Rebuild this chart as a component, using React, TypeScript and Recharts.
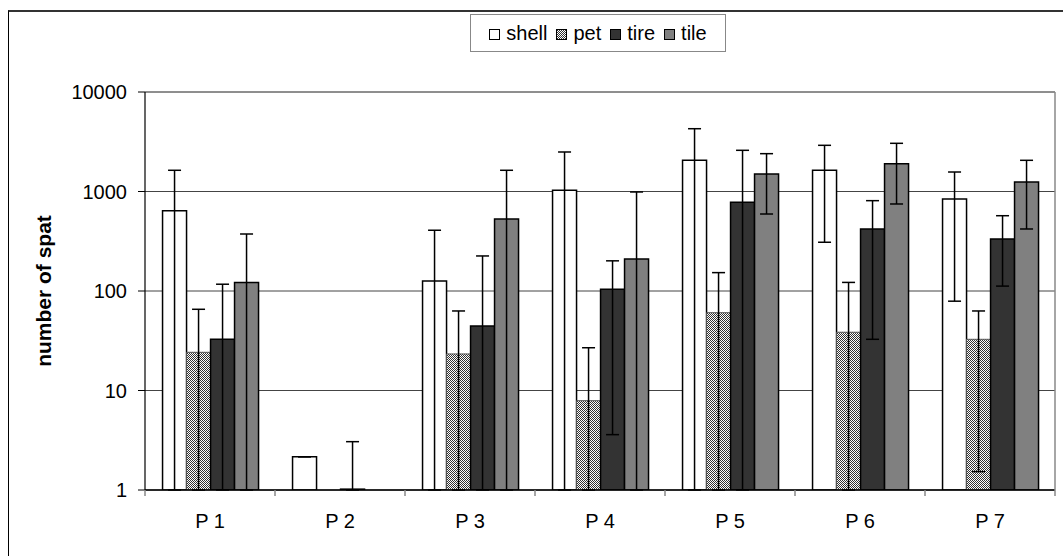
import React from "react";
import {
  Bar,
  BarChart,
  CartesianGrid,
  ErrorBar,
  Legend,
  XAxis,
  YAxis,
} from "recharts";

// group labels
const categories = ["P 1", "P 2", "P 3", "P 4", "P 5", "P 6", "P 7"];

// means (null = no bar)
const shell = [641, 2.16, 126, 1028, 2058, 1634, 841];
const pet = [24.2, null, 23.3, 7.9, 60.5, 38.5, 32.7];
const tire = [32.7, 1.02, 44.5, 104, 779, 420, 333];
const tile = [122, null, 529, 210, 1500, 1902, 1245];

// top of the error whiskers
const shellHigh = [1634, 2.16, 408, 2495, 4276, 2912, 1570];
const petHigh = [65.5, null, 63, 26.9, 153, 122, 63];
const tireHigh = [117, 3.06, 225, 201, 2594, 809, 571];
const tileHigh = [374, null, 1634, 989, 2400, 3050, 2058];

// bottom of the whiskers, null = runs below the axis
const shellLow = [null, 2.16, null, null, null, 309, 79];
const petLow = [null, null, null, null, null, null, 1.53];
const tireLow = [null, null, null, 3.6, null, 32.7, 112];
const tileLow = [null, null, null, null, 594, 749, 420];

const yTicks = [1, 10, 100, 1000, 10000];

const AXIS_MIN = yTicks[0];
const FONT = "Arial, 'Liberation Sans', sans-serif";
const X_TICK_SIZE = 6;
const X_TICK_MARGIN = 18;

const errOf = (v: number | null, lo: number | null, hi: number | null) =>
  v == null || hi == null ? null : [v - (lo ?? AXIS_MIN), hi - v];

const data = categories.map((name, i) => ({
  name,
  shell: shell[i],
  pet: pet[i],
  tire: tire[i],
  tile: tile[i],
  shellErr: errOf(shell[i], shellLow[i], shellHigh[i]),
  petErr: errOf(pet[i], petLow[i], petHigh[i]),
  tireErr: errOf(tire[i], tireLow[i], tireHigh[i]),
  tileErr: errOf(tile[i], tileLow[i], tileHigh[i]),
}));

const legendItems = [
  { name: "shell", fill: "#ffffff" },
  { name: "pet", fill: "url(#petFill)" },
  { name: "tire", fill: "#333333" },
  { name: "tile", fill: "#808080" },
];

// category label plus the grey tick marks that sit between groups
function CategoryTick(props: any) {
  const { x, y, payload, index } = props;
  const half = payload?.offset ?? 0;
  const axisY = y - X_TICK_SIZE - X_TICK_MARGIN;
  const mark = (px: number, k: string) => (
    <line key={k} x1={px} x2={px} y1={axisY} y2={axisY + X_TICK_SIZE} stroke="#888" strokeWidth={1.5} />
  );
  return (
    <g>
      {mark(x - half, "l")}
      {index === categories.length - 1 ? mark(x + half, "r") : null}
      <text x={x} y={y} dy="0.71em" textAnchor="middle" fill="#000" fontSize={20} fontFamily={FONT}>
        {payload.value}
      </text>
    </g>
  );
}

function LegendBox() {
  return (
    <div
      style={{
        position: "absolute",
        left: 0,
        top: 0,
        width: 256,
        height: 38,
        boxSizing: "border-box",
        border: "1px solid #888",
        background: "#fff",
        fontFamily: FONT,
        fontSize: 20,
        color: "#000",
        display: "flex",
        alignItems: "center",
        justifyContent: "center",
        whiteSpace: "nowrap",
      }}
    >
      {legendItems.map((it, i) => (
        <span key={it.name} style={{ marginLeft: i === 0 ? 0 : 9 }}>
          <svg width={11} height={11} style={{ verticalAlign: "baseline", marginRight: 6 }}>
            <rect x={0.5} y={0.5} width={10} height={10} fill={it.fill} stroke="#000" />
          </svg>
          {it.name}
        </span>
      ))}
    </div>
  );
}

export default function App() {
  const errProps = { width: 6.5, stroke: "#000", strokeWidth: 1.5, direction: "y" as const };
  return (
    <div
      style={{
        position: "absolute",
        left: 0,
        top: 0,
        width: 1063,
        height: 556,
        overflow: "hidden",
        background: "#fff",
      }}
    >
      <div
        style={{
          position: "absolute",
          left: 8,
          top: 10,
          width: 1200,
          height: 700,
          borderTop: "2px solid #333",
          borderLeft: "1px solid #000",
        }}
      />
      <BarChart
        width={1063}
        height={556}
        data={data}
        margin={{ top: 91, right: 7, bottom: 26, left: 20 }}
        barGap={0}
        barCategoryGap="13.5%"
        style={{ position: "absolute", left: 0, top: 0 }}
      >
        <defs>
          <pattern id="petFill" width={2} height={2} patternUnits="userSpaceOnUse">
            <rect width={2} height={2} fill="#fff" />
            <rect width={1} height={1} fill="#333" />
            <rect x={1} y={1} width={1} height={1} fill="#333" />
          </pattern>
        </defs>
        <CartesianGrid vertical={false} stroke="#444" />
        <XAxis
          dataKey="name"
          height={40}
          tickLine={false}
          tickSize={X_TICK_SIZE}
          tickMargin={X_TICK_MARGIN}
          axisLine={{ stroke: "#000", strokeWidth: 1.5 }}
          tick={<CategoryTick />}
          interval={0}
        />
        <XAxis
          xAxisId="top"
          orientation="top"
          dataKey="name"
          height={1}
          tick={false}
          tickLine={false}
          axisLine={{ stroke: "#888", strokeWidth: 1.5 }}
        />
        <YAxis
          scale="log"
          type="number"
          domain={[AXIS_MIN, 10000]}
          ticks={yTicks}
          allowDataOverflow
          width={125}
          tickSize={7}
          tickMargin={11}
          tickLine={{ stroke: "#000" }}
          axisLine={{ stroke: "#000", strokeWidth: 1.2 }}
          tick={{ fill: "#000", fontSize: 20, fontFamily: FONT }}
          label={{
            value: "number of spat",
            angle: -90,
            position: "insideLeft",
            offset: 24,
            style: { textAnchor: "middle", fontWeight: "bold", fontSize: 21, fontFamily: FONT, fill: "#000" },
          }}
        />
        <YAxis
          yAxisId="right"
          orientation="right"
          type="number"
          domain={[0, 1]}
          width={1}
          tick={false}
          tickLine={false}
          axisLine={{ stroke: "#888", strokeWidth: 1.5 }}
        />
        <Legend
          content={() => <LegendBox />}
          wrapperStyle={{ top: 14, left: 470, width: 256, height: 0 }}
        />
        <Bar dataKey="shell" fill="#ffffff" stroke="#000" strokeWidth={1.5} isAnimationActive={false}>
          <ErrorBar dataKey="shellErr" {...errProps} />
        </Bar>
        <Bar dataKey="pet" fill="url(#petFill)" stroke="#555" strokeWidth={1} isAnimationActive={false}>
          <ErrorBar dataKey="petErr" {...errProps} />
        </Bar>
        <Bar dataKey="tire" fill="#333333" stroke="#000" strokeWidth={1.5} isAnimationActive={false}>
          <ErrorBar dataKey="tireErr" {...errProps} />
        </Bar>
        <Bar dataKey="tile" fill="#808080" stroke="#000" strokeWidth={1.5} isAnimationActive={false}>
          <ErrorBar dataKey="tileErr" {...errProps} />
        </Bar>
      </BarChart>
    </div>
  );
}
